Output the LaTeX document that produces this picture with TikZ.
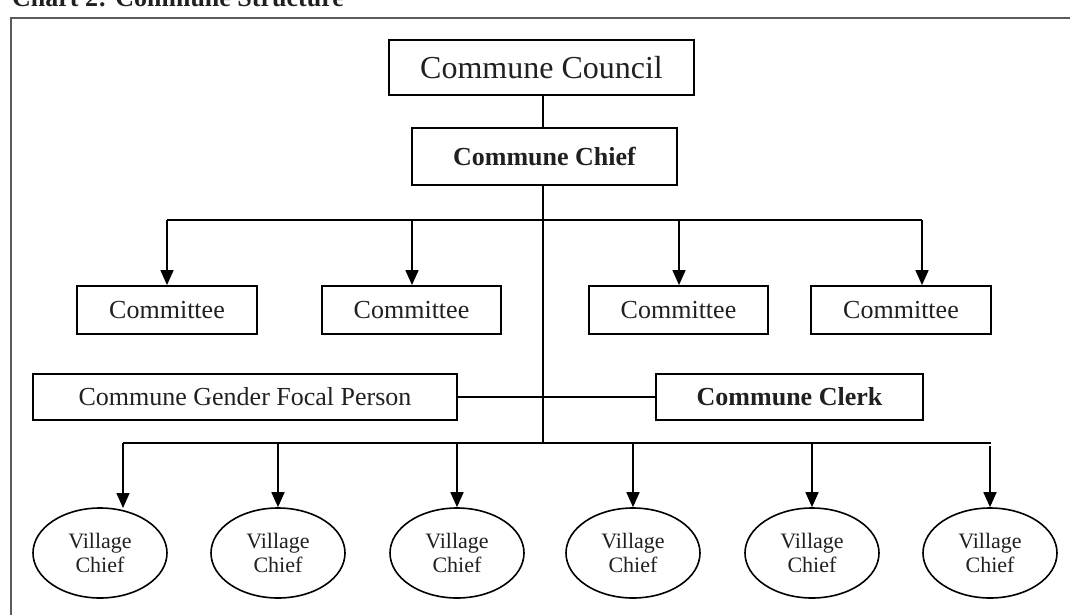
\documentclass[tikz,border=0pt]{standalone}
\usepackage{fontspec}
\setmainfont{Liberation Serif}
\usetikzlibrary{arrows.meta,shapes.geometric}
\definecolor{ink}{HTML}{231F20}
\definecolor{framegray}{HTML}{5A5A5A}
\tikzset{
  box/.style={draw=black, line width=1.8pt, rectangle, inner sep=0pt, text=ink,
              font=\fontsize{26}{28}\selectfont},
  vill/.style={draw=black, line width=1.6pt, ellipse, inner sep=0pt,
               minimum width=134pt, minimum height=90pt, align=center, text=ink,
               font=\fontsize{22}{24}\selectfont},
  conn/.style={draw=black, line width=1.6pt},
  arr/.style={conn, -{Triangle[width=13pt,length=15pt]}},
}
\begin{document}
\begin{tikzpicture}[x=1pt,y=-1pt]
\useasboundingbox (0,0) rectangle (1070,615);
% frame
\draw[framegray, line width=2pt] (11,640) -- (11,18) -- (1100,18);
% title
\node[anchor=base west, inner sep=0pt, text=ink, font=\fontsize{26}{28}\selectfont\bfseries] (title) at (12,7) {Chart 2: Commune Structure};
% top boxes
\node[box, minimum width=305pt, minimum height=55pt, font=\fontsize{32}{34}\selectfont] (council) at (541.5,67.5) {Commune Council};
\node[box, minimum width=265pt, minimum height=57pt, font=\fontsize{26}{28}\selectfont\bfseries] (chief) at (544.5,156.5) {Commune Chief};
\coordinate (tx) at (543,0);
\draw[conn] (council.south -| tx) -- (chief.north -| tx);
% committees
\node[box, minimum width=180pt, minimum height=48pt] (c1) at (167,310) {Committee};
\node[box, minimum width=179pt, minimum height=48pt] (c2) at (411.5,310) {Committee};
\node[box, minimum width=179pt, minimum height=48pt] (c3) at (678.5,310) {Committee};
\node[box, minimum width=180pt, minimum height=48pt] (c4) at (901,310) {Committee};
\coordinate (cb1) at (167,220);
\coordinate (cb2) at (412,220);
\coordinate (cb3) at (679,220);
\coordinate (cb4) at (922,220);
\draw[conn] (cb1) -- (cb4);
\draw[arr] (cb1) -- (c1.north -| cb1);
\draw[arr] (cb2) -- (c2.north -| cb2);
\draw[arr] (cb3) -- (c3.north -| cb3);
\draw[arr] (cb4) -- (c4.north -| cb4);
% gender focal & clerk
\node[box, minimum width=424pt, minimum height=46pt] (gender) at (245,397) {Commune Gender Focal Person};
\node[box, minimum width=267pt, minimum height=46pt, font=\fontsize{26}{28}\selectfont\bfseries] (clerk) at (789.5,397) {Commune Clerk};
\draw[conn] (gender.east) -- (clerk.west);
% trunk
\coordinate (vb0) at (543,443);
\draw[conn] (chief.south -| vb0) -- (vb0);
% villages
\node[vill] (v1) at (100,553) {Village\\Chief};
\node[vill] (v2) at (278,553) {Village\\Chief};
\node[vill] (v3) at (457,553) {Village\\Chief};
\node[vill] (v4) at (633,553) {Village\\Chief};
\node[vill] (v5) at (812,553) {Village\\Chief};
\node[vill] (v6) at (990,553) {Village\\Chief};
\coordinate (vbl) at (123,443);
\coordinate (vbr) at (991,443);
\draw[conn] (vbl) -- (vbr);
\draw[arr] (vbl) -- (123,508);
\draw[arr] (278,443) -- (v2.north);
\draw[arr] (457,443) -- (v3.north);
\draw[arr] (633,443) -- (v4.north);
\draw[arr] (812,443) -- (v5.north);
\draw[arr] (990,446) -- (v6.north);
\end{tikzpicture}
\end{document}
